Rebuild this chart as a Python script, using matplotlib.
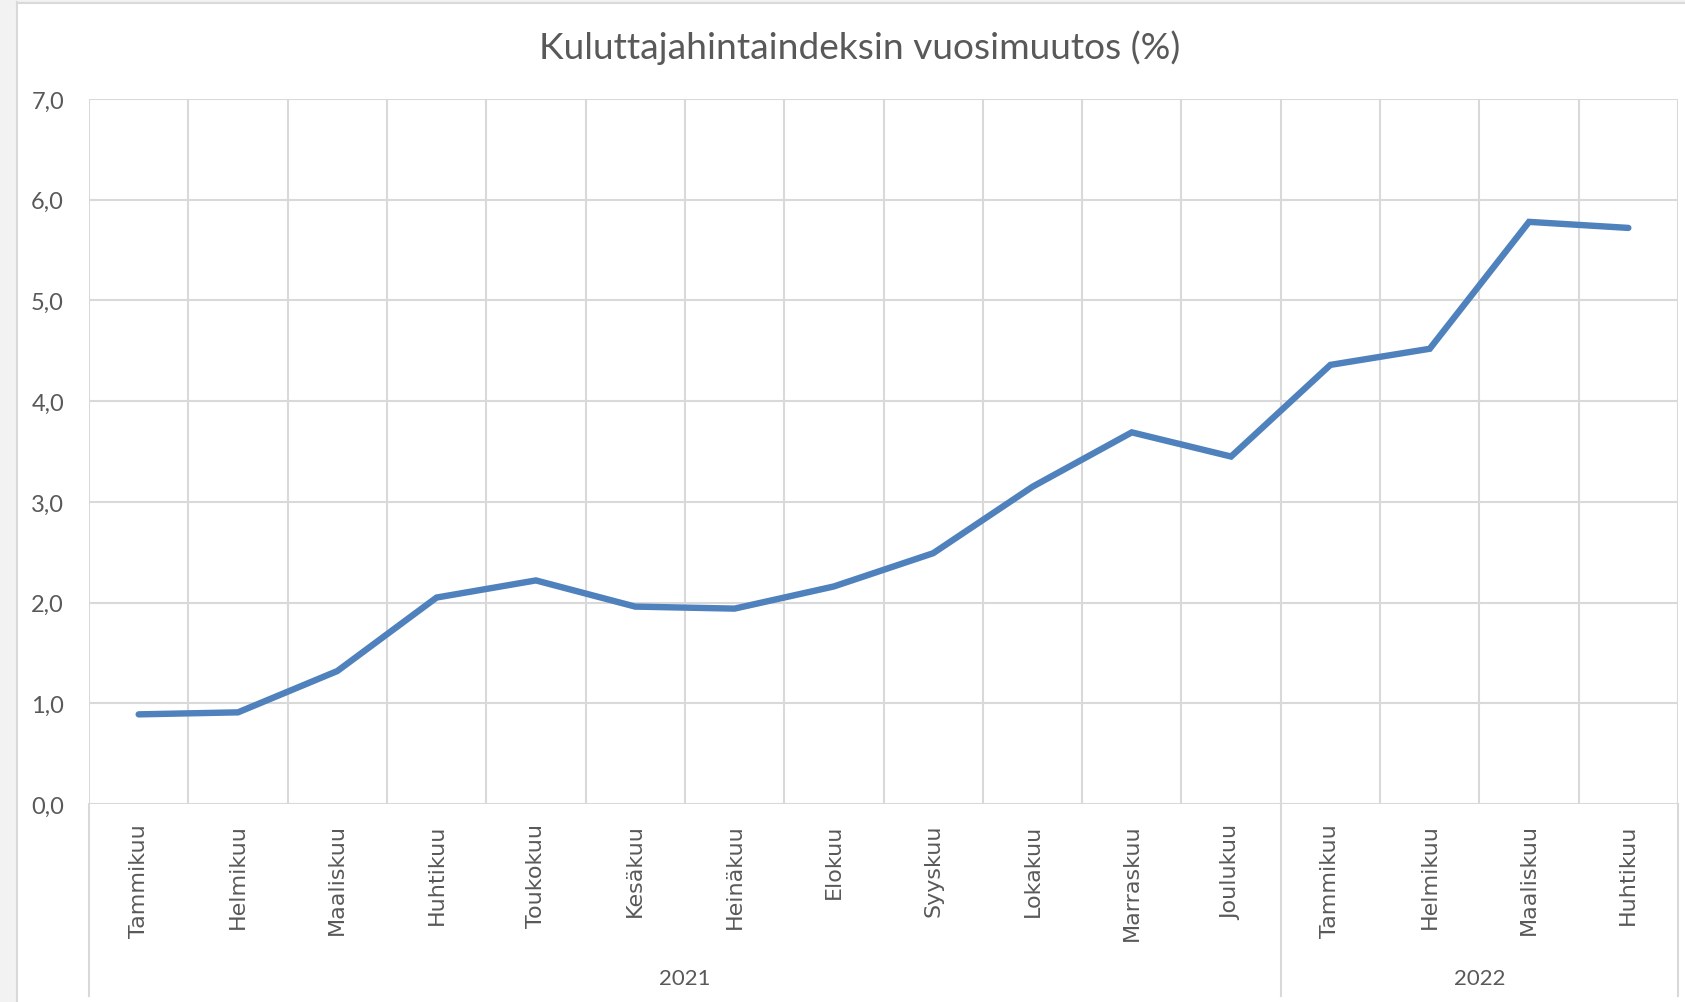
import matplotlib.pyplot as plt
import numpy as np
from matplotlib.patches import Rectangle
from matplotlib.lines import Line2D

# data
months = ["Tammikuu", "Helmikuu", "Maaliskuu", "Huhtikuu", "Toukokuu", "Kesäkuu",
          "Heinäkuu", "Elokuu", "Syyskuu", "Lokakuu", "Marraskuu", "Joulukuu",
          "Tammikuu", "Helmikuu", "Maaliskuu", "Huhtikuu"]
years = ["2021", "2022"]
months_per_year = [12, 4]
inflation = [0.89, 0.91, 1.32, 2.05, 2.22, 1.96, 1.94, 2.16, 2.49, 3.15,
             3.69, 3.45, 4.36, 4.52, 5.78, 5.72]
yticks = [0, 1, 2, 3, 4, 5, 6, 7]

TEXT = "#595959"
GRID = "#d9d9d9"
LINE = "#4f81bd"
W, H = 1685, 1003

fig = plt.figure(figsize=(W / 100, H / 100), dpi=100)
fig.patch.set_facecolor("white")

# grey strip left / top, chart area border
fig.patches.append(Rectangle((0, 0), 16 / W, 1, transform=fig.transFigure,
                             facecolor="#f2f2f2", edgecolor="none", zorder=0))
fig.patches.append(Rectangle((0, 1 - 3 / H), 1, 3 / H, transform=fig.transFigure,
                             facecolor="#f2f2f2", edgecolor="none", zorder=0))
fig.lines.append(Line2D([16.5 / W, 16.5 / W], [0, 1 - 3 / H], transform=fig.transFigure,
                        color=GRID, lw=1.5))
fig.lines.append(Line2D([16.5 / W, 1], [1 - 3.5 / H, 1 - 3.5 / H], transform=fig.transFigure,
                        color=GRID, lw=1.5))

left, right, top, bottom = 89, 1678, 100, 805
ax = fig.add_axes([left / W, 1 - bottom / H, (right - left) / W, (bottom - top) / H])

x = np.arange(len(months))
ax.plot(x, inflation, color=LINE, lw=4.6, solid_capstyle="round", solid_joinstyle="miter", zorder=3)

ax.set_xlim(-0.5, len(months) - 0.5)
ax.set_ylim(0, 7)
ax.set_yticks(yticks)
ax.set_yticklabels([f"{v:.1f}".replace(".", ",") for v in yticks],
                   fontfamily="Lato", fontsize=17, color=TEXT)
ax.set_xticks(x)
ax.set_xticklabels(months, rotation=90, fontfamily="DejaVu Sans", fontsize=16, color=TEXT)
ax.set_xticks(np.arange(len(months) + 1) - 0.5, minor=True)
ax.tick_params(axis="y", length=0, pad=18)
ax.tick_params(axis="x", which="both", length=0, pad=14)
ax.grid(True, axis="y", which="major", color=GRID, lw=1.5)
ax.grid(True, axis="x", which="minor", color=GRID, lw=1.5)
ax.grid(False, axis="x", which="major")
for s in ax.spines.values():
    s.set_visible(False)
ax.axhline(0, color=GRID, lw=2, zorder=2)

# group separators for the year axis
ext = (997 - bottom) / (bottom - top)
trans = ax.get_xaxis_transform()
bounds = np.concatenate([[0], np.cumsum(months_per_year)]) - 0.5
for b in bounds:
    ax.plot([b, b], [0, -ext], transform=trans, color=GRID, lw=1.5, clip_on=False)
for i, yr in enumerate(years):
    xc = (bounds[i] + bounds[i + 1]) / 2
    ax.text(xc, -(979 - bottom) / (bottom - top), yr, transform=trans, ha="center", va="center",
            fontfamily="Lato", fontsize=16, color=TEXT)

fig.text(860 / W, 1 - 48 / H, "Kuluttajahintaindeksin vuosimuutos (%)", ha="center", va="center",
         fontfamily="Lato", fontsize=26.7, color=TEXT)

fig.savefig("out.png", dpi=100)
